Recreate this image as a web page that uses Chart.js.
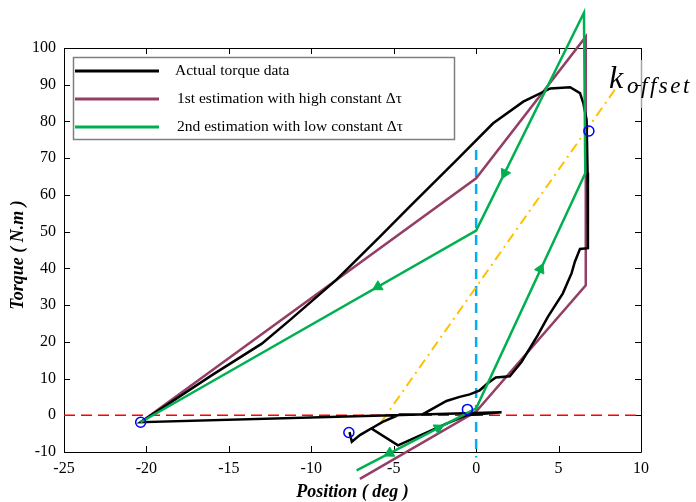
<!DOCTYPE html>
<html>
<head>
<meta charset="utf-8">
<script src="https://cdn.jsdelivr.net/npm/chart.js@4"></script>
<style>
	html, body { margin: 0; padding: 0; background: #fff; }
</style>
</head>
<body>
<canvas id="torque-chart" width="696" height="502"></canvas>
<script>
// measured torque (hysteresis loop)
const actualX = [-7.68, -7.54, -7.05, -6.36, -4.74, -1.80, -0.59, 1.54, -20.35, -16.0, -13.0, -11.3, -8.5, -5.85, -4.03, -1.19, 1.03, 2.86, 4.5, 5.7, 6.3, 6.5, 6.7, 6.76, 6.78, 6.3, 5.99, 5.79, 5.26, 4.35, 3.74, 2.75, 2.04, 1.19, 0.7, 0.22, -0.39, -1.0, -1.8, -3.23, -4.64, -5.67, -6.36];
const actualY = [-4.6, -7.2, -5.4, -3.6, -8.2, -2.3, 0.0, 0.8, -1.9, 11.0, 19.5, 25.9, 36.8, 48.6, 56.8, 69.5, 79.5, 85.4, 89.0, 89.3, 87.7, 85.0, 80.4, 66.0, 45.5, 45.3, 41.8, 38.7, 33.2, 26.8, 21.8, 14.5, 10.6, 10.3, 8.7, 6.8, 5.7, 5.0, 3.9, 0.3, 0.2, -1.8, -3.6];

// 1st estimation (high constant delta tau)
const highX = [-20.35, 0, 6.65, 6.65, 0, -7.05];
const highY = [-1.9, 64.5, 103.1, 35.4, 1.0, -17.3];

// 2nd estimation (low constant delta tau)
const lowX = [-20.35, 0, 6.54, 6.62, 0, -7.25];
const lowY = [-1.9, 50.3, 109.6, 65.9, 1.9, -15.0];

// direction arrows on the 2nd estimation
const arrowX = [1.73, -5.96, 3.9, -2.3, -5.25];
const arrowY = [65.9, 35.0, 39.8, -3.5, -10.3];
const arrowAngle = [206, 240, 25, 62, 242];

// turning points
const turnX = [-20.35, -7.72, -0.53, 6.84];
const turnY = [-1.9, -4.7, 1.6, 77.4];

// k_offset line
const offsetX = [-5.75, 8.42];
const offsetY = [-1.8, 88.7];

// reference lines
const zeroPosX = [0, 0];
const zeroPosY = [72.2, -11.5];
const zeroTorqueX = [-25, 10];
const zeroTorqueY = [0, 0];

const seriesNames = [
	'Actual torque data',
	'1st estimation with high constant \u0394\u03c4',
	'2nd estimation with low constant \u0394\u03c4',
];
const colors = ['#000000', '#943E66', '#00B050'];

const xTitle = 'Position ( deg )';
const yTitle = 'Torque ( N.m )';

function pts(xs, ys) {
	return xs.map((x, i) => ({ x: x, y: ys[i] }));
}

const serif = "'Liberation Serif', 'Times New Roman', serif";

const framePlugin = {
	id: 'frame',
	beforeDatasetsDraw(chart) {
		const { ctx, chartArea: a, scales } = chart;
		ctx.save();
		ctx.strokeStyle = '#000';
		ctx.lineWidth = 1;
		ctx.beginPath();
		ctx.rect(a.left + 0.5, a.top + 0.5, a.right - a.left, a.bottom - a.top);
		scales.x.ticks.forEach(t => {
			const px = Math.round(scales.x.getPixelForValue(t.value)) + 0.5;
			ctx.moveTo(px, a.bottom);
			ctx.lineTo(px, a.bottom - 6);
			ctx.moveTo(px, a.top);
			ctx.lineTo(px, a.top + 6);
		});
		scales.y.ticks.forEach(t => {
			const py = Math.round(scales.y.getPixelForValue(t.value)) + 0.5;
			ctx.moveTo(a.left, py);
			ctx.lineTo(a.left + 6, py);
			ctx.moveTo(a.right, py);
			ctx.lineTo(a.right - 6, py);
		});
		ctx.stroke();
		ctx.restore();
	},
	afterDraw(chart) {
		const { ctx, chartArea: a } = chart;
		ctx.save();

		// legend box
		ctx.fillStyle = '#fff';
		ctx.fillRect(73, 57, 381, 82);
		ctx.strokeStyle = '#7f7f7f';
		ctx.lineWidth = 1.5;
		ctx.strokeRect(73.5, 57.5, 381, 82);
		seriesNames.forEach((name, i) => {
			const yy = 71 + i * 28;
			ctx.strokeStyle = colors[i];
			ctx.lineWidth = 3;
			ctx.beginPath();
			ctx.moveTo(75, yy);
			ctx.lineTo(159, yy);
			ctx.stroke();
			ctx.fillStyle = '#000';
			ctx.font = '15.5px ' + serif;
			ctx.textBaseline = 'middle';
			ctx.textAlign = 'left';
			ctx.fillText(name, i === 0 ? 175 : 177, yy);
		});

		// axis titles
		ctx.fillStyle = '#000';
		ctx.font = 'italic bold 18px ' + serif;
		ctx.textAlign = 'center';
		ctx.textBaseline = 'alphabetic';
		ctx.fillText(xTitle, (a.left + a.right) / 2, 497);
		ctx.translate(23, 255);
		ctx.rotate(-Math.PI / 2);
		ctx.fillText(yTitle, 0, 0);
		ctx.setTransform(1, 0, 0, 1, 0, 0);

		// k_offset label
		ctx.strokeStyle = '#a6a6a6';
		ctx.lineWidth = 1.5;
		ctx.beginPath();
		ctx.moveTo(a.right + 0.5, 60);
		ctx.lineTo(a.right + 0.5, 108);
		ctx.stroke();
		ctx.fillStyle = '#000';
		ctx.textAlign = 'left';
		ctx.font = 'italic 32px ' + serif;
		ctx.fillText('k', 609, 88);
		ctx.font = 'italic 23px ' + serif;
		ctx.letterSpacing = '2.5px';
		ctx.fillText('offset', 627, 93);
		ctx.restore();
	}
};

const lineBase = {
	showLine: true,
	pointRadius: 0,
	tension: 0,
	clip: false,
	fill: false,
};

new Chart(
	document.getElementById('torque-chart'),
	{
		type: 'scatter',
		data: {
			datasets: [
				{
					...lineBase,
					label: 'zero torque',
					data: pts(zeroTorqueX, zeroTorqueY),
					borderColor: '#FF0000',
					borderWidth: 1.5,
					borderDash: [11, 6],
					order: 7,
				},
				{
					...lineBase,
					label: 'zero position',
					data: pts(zeroPosX, zeroPosY),
					borderColor: '#00B0F0',
					borderWidth: 2.5,
					borderDash: [10, 7],
					order: 6,
				},
				{
					...lineBase,
					label: 'k offset',
					data: pts(offsetX, offsetY),
					borderColor: '#FFC000',
					borderWidth: 2,
					borderDash: [10, 5, 2, 5],
					order: 5,
				},
				{
					...lineBase,
					label: seriesNames[0],
					data: pts(actualX, actualY),
					borderColor: colors[0],
					borderWidth: 2.5,
					order: 3,
				},
				{
					...lineBase,
					label: seriesNames[1],
					data: pts(highX, highY),
					borderColor: colors[1],
					borderWidth: 2.5,
					order: 4,
				},
				{
					...lineBase,
					label: seriesNames[2],
					data: pts(lowX, lowY),
					borderColor: colors[2],
					borderWidth: 2.5,
					order: 2,
				},
				{
					label: 'arrows',
					data: pts(arrowX, arrowY),
					pointStyle: 'triangle',
					pointRadius: 6,
					pointRotation: arrowAngle,
					backgroundColor: colors[2],
					borderColor: colors[2],
					borderWidth: 1,
					clip: false,
					order: 1,
				},
				{
					label: 'turning points',
					data: pts(turnX, turnY),
					pointStyle: 'circle',
					pointRadius: 5,
					backgroundColor: 'rgba(0,0,0,0)',
					borderColor: '#0000FF',
					borderWidth: 1.5,
					clip: false,
					order: 0,
				},
			]
		},
		options: {
			responsive: false,
			animation: false,
			devicePixelRatio: 1,
			layout: {
				padding: { top: 48, right: 55, left: 0, bottom: 0 },
			},
			plugins: {
				legend: { display: false },
				tooltip: { enabled: false },
			},
			scales: {
				x: {
					type: 'linear',
					min: -25,
					max: 10,
					ticks: {
						stepSize: 5,
						color: '#000',
						padding: 7,
						font: { family: serif, size: 16 },
					},
					grid: { display: false, drawTicks: false },
					border: { display: false },
					afterFit(scale) { scale.height = 50; },
				},
				y: {
					type: 'linear',
					min: -10,
					max: 100,
					ticks: {
						stepSize: 10,
						color: '#000',
						padding: 8,
						font: { family: serif, size: 16 },
					},
					grid: { display: false, drawTicks: false },
					border: { display: false },
					afterFit(scale) { scale.width = 64; },
				},
			}
		},
		plugins: [framePlugin],
	}
);
</script>
</body>
</html>
